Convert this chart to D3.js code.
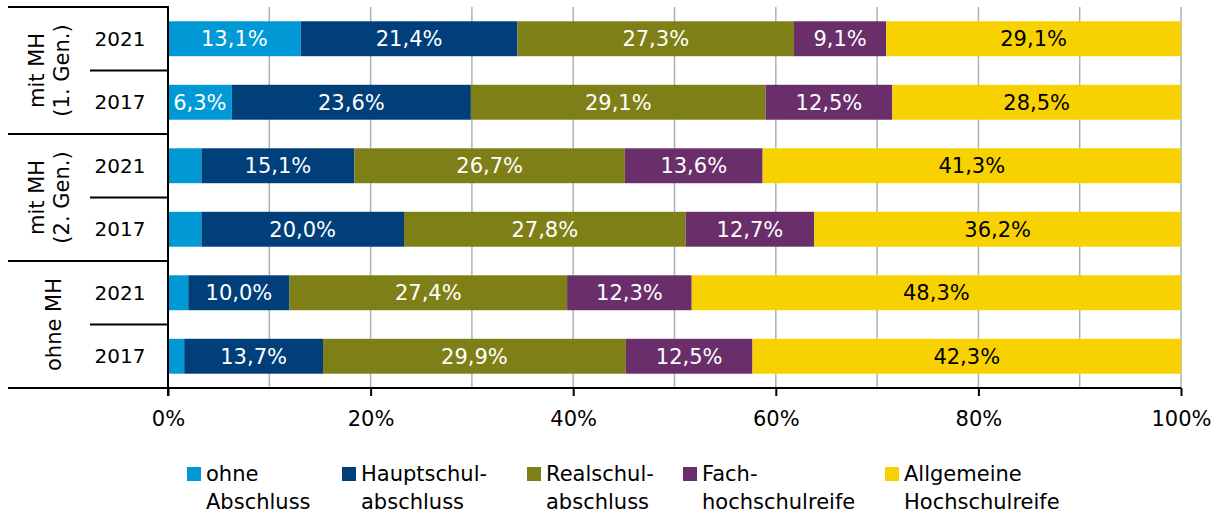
<!DOCTYPE html>
<html>
<head>
<meta charset="utf-8">
<script src="https://cdn.jsdelivr.net/npm/d3@7"></script>
<style>
  body { margin: 0; background: #fff; }
  svg { font-family: "DejaVu Sans", Verdana, sans-serif; }
</style>
</head>
<body>
<svg width="1220" height="515"></svg>
<script>
// Daten
const groups = [["mit MH", "(1. Gen.)"], ["mit MH", "(2. Gen.)"], ["ohne MH"]];
const years = ["2021", "2017"];
const series = ["ohne Abschluss", "Hauptschulabschluss", "Realschulabschluss", "Fachhochschulreife", "Allgemeine Hochschulreife"];
const legendLabels = [["ohne", "Abschluss"], ["Hauptschul-", "abschluss"], ["Realschul-", "abschluss"], ["Fach-", "hochschulreife"], ["Allgemeine", "Hochschulreife"]];
const ohneAbschluss = [13.1, 6.3, 3.3, 3.3, 2.0, 1.6];
const hauptschul    = [21.4, 23.6, 15.1, 20.0, 10.0, 13.7];
const realschul     = [27.3, 29.1, 26.7, 27.8, 27.4, 29.9];
const fachhoch      = [9.1, 12.5, 13.6, 12.7, 12.3, 12.5];
const allgemeine    = [29.1, 28.5, 41.3, 36.2, 48.3, 42.3];
const xTicks = [0, 20, 40, 60, 80, 100];

const colors = ["#0099d5", "#003f7a", "#7f7f18", "#6a2f6b", "#f8d200"];
const labelColors = ["#fff", "#fff", "#fff", "#fff", "#000"];

const values = [ohneAbschluss, hauptschul, realschul, fachhoch, allgemeine];
const rows = [];
groups.forEach((g, gi) => years.forEach((yr, yi) => rows.push({ id: gi * 2 + yi, group: gi, year: yr })));
rows.forEach(r => series.forEach((s, si) => r[s] = values[si][r.id]));

const svg = d3.select("svg");
const mLeft = 168, mRight = 1181, mTop = 7, mBottom = 388;

const x = d3.scaleLinear().domain([0, 100]).range([mLeft, mRight]);
const y = d3.scaleBand().domain(rows.map(r => r.id)).range([mTop, mBottom]).paddingInner(0.45).paddingOuter(0.225);
const band = (mBottom - mTop) / rows.length;

// Gitterlinien
svg.append("g").selectAll("line")
  .data(d3.range(10, 101, 10))
  .join("line")
  .attr("x1", d => x(d)).attr("x2", d => x(d))
  .attr("y1", mTop).attr("y2", mBottom)
  .attr("stroke", "#a9b5b5").attr("stroke-width", 1.5);

// Balken
const stack = d3.stack().keys(series)(rows);
stack.forEach((s, si) => {
  svg.append("g").selectAll("rect")
    .data(s)
    .join("rect")
    .attr("x", d => x(d[0]))
    .attr("width", d => x(d[1]) - x(d[0]))
    .attr("y", d => y(d.data.id))
    .attr("height", y.bandwidth())
    .attr("fill", colors[si]);
});

// Beschriftung (kleine Werte < 5 % ohne Label)
stack.forEach((s, si) => {
  svg.append("g").selectAll("text")
    .data(s.filter(d => d[1] - d[0] >= 5))
    .join("text")
    .attr("x", d => (x(d[0]) + x(d[1])) / 2)
    .attr("y", d => y(d.data.id) + y.bandwidth() / 2)
    .attr("dy", "0.36em")
    .attr("text-anchor", "middle")
    .attr("font-size", 21)
    .attr("fill", labelColors[si])
    .text(d => (d[1] - d[0]).toFixed(1).replace(".", ",") + "%");
});

// x-Achse
const xAxis = svg.append("g")
  .attr("transform", `translate(0,${mBottom})`)
  .call(d3.axisBottom(x).tickValues(xTicks).tickSize(8).tickPadding(15).tickFormat(d => d + "%"));
xAxis.select(".domain").remove();
xAxis.selectAll("line").attr("stroke", "#000").attr("stroke-width", 2);
xAxis.selectAll("text").attr("font-size", 21).attr("fill", "#000").attr("font-family", "DejaVu Sans, sans-serif");

svg.append("line").attr("x1", 8).attr("x2", mRight).attr("y1", mBottom).attr("y2", mBottom)
  .attr("stroke", "#000").attr("stroke-width", 2);

// y-Achse mit Gruppen
svg.append("line").attr("x1", mLeft).attr("x2", mLeft).attr("y1", mTop - 1).attr("y2", mBottom + 8)
  .attr("stroke", "#000").attr("stroke-width", 2);

rows.forEach((r, i) => {
  const y0 = mTop + i * band;
  svg.append("line")
    .attr("x1", i % 2 === 0 ? 8 : 90).attr("x2", mLeft)
    .attr("y1", y0).attr("y2", y0)
    .attr("stroke", "#000").attr("stroke-width", 2);
  svg.append("text")
    .attr("x", 120).attr("y", y(r.id) + y.bandwidth() / 2)
    .attr("dy", "0.36em").attr("text-anchor", "middle")
    .attr("font-size", 20).attr("fill", "#000")
    .text(r.year);
});

groups.forEach((g, gi) => {
  const cy = mTop + (gi * 2 + 1) * band;
  const lineH = 25;
  const t = svg.append("text")
    .attr("transform", `translate(${g.length > 1 ? 49 : 53},${cy}) rotate(-90)`)
    .attr("text-anchor", "middle")
    .attr("font-size", 21).attr("fill", "#000");
  g.forEach((line, li) => {
    t.append("tspan")
      .attr("x", 0)
      .attr("y", (li - (g.length - 1) / 2) * lineH)
      .attr("dy", "0.36em")
      .text(line);
  });
});

// Legende
const legendX = [187, 342, 527, 683, 885];
const legend = svg.append("g").selectAll("g")
  .data(legendLabels)
  .join("g")
  .attr("transform", (d, i) => `translate(${legendX[i]},0)`);
legend.append("rect")
  .attr("x", 0).attr("y", 467).attr("width", 14).attr("height", 14)
  .attr("fill", (d, i) => colors[i]);
legend.append("text")
  .attr("font-size", 21).attr("fill", "#000")
  .selectAll("tspan")
  .data(d => d)
  .join("tspan")
  .attr("x", 19)
  .attr("y", (d, i) => 481 + i * 28)
  .text(d => d);
</script>
</body>
</html>
